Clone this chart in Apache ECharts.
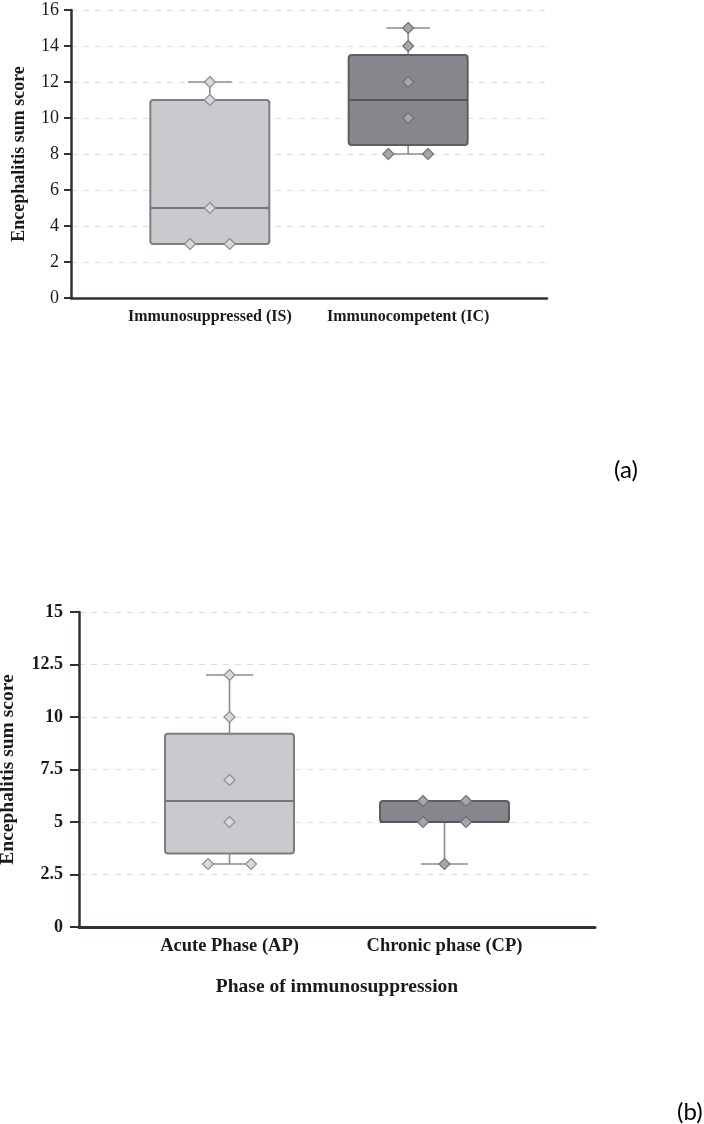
<!DOCTYPE html>
<html>
<head>
<meta charset="utf-8">
<script src="https://cdn.jsdelivr.net/npm/echarts@6/dist/echarts.min.js"></script>
<style>
html, body { margin: 0; padding: 0; background: #fff; }
#main { width: 704px; height: 1124px; }
</style>
</head>
<body>
<div id="main"></div>
<script>
// panel (a): immune status
const catsA = ['Immunosuppressed (IS)', 'Immunocompetent (IC)'];
// [x, min, Q1, median, Q3, max]
const boxesA = [
    [0, 3, 3, 5, 11, 12],
    [1, 8, 8.5, 11, 13.5, 15]
];
const pointsIS = [[0, 12], [0, 11], [0, 5], [-0.1, 3], [0.1, 3]];
const pointsIC = [[1, 15], [1, 14], [1, 12], [1, 10], [0.9, 8], [1.1, 8]];
const yTicksA = [0, 16, 2]; // min, max, step

// panel (b): phase of immunosuppression
const catsB = ['Acute Phase (AP)', 'Chronic phase (CP)'];
const boxesB = [
    [0, 3, 3.5, 6, 9.2, 12],
    [1, 3, 5, 5, 6, 6]
];
const pointsAP = [[0, 12], [0, 10], [0, 7], [0, 5], [-0.1, 3], [0.1, 3]];
const pointsCP = [[0.9, 6], [1.1, 6], [0.9, 5], [1.1, 5], [1, 3]];
const yTicksB = [0, 15, 2.5];

const boxStyle = [
    {fill: '#c9cacd', stroke: '#7c7e83', median: '#74767b'},
    {fill: '#85878c', stroke: '#5c5e63', median: '#55575c'}
];
const whiskerColor = '#8b8d91';
const serif = 'Liberation Serif';
const axisColor = '#2e323b';

function renderBox(params, api) {
    const x = api.value(0);
    const mn = api.value(1), q1 = api.value(2), md = api.value(3), q3 = api.value(4), mx = api.value(5);
    const half = api.size([0.3, 0])[0];
    const cap = api.size([0.11, 0])[0];
    const pMin = api.coord([x, mn]);
    const pQ1 = api.coord([x, q1]);
    const pMd = api.coord([x, md]);
    const pQ3 = api.coord([x, q3]);
    const pMax = api.coord([x, mx]);
    const st = boxStyle[params.dataIndex];
    const ls = {stroke: whiskerColor, lineWidth: 1.6};
    const children = [];
    if (mx > q3) {
        children.push({type: 'line', shape: {x1: pMax[0], y1: pMax[1], x2: pQ3[0], y2: pQ3[1]}, style: ls});
        children.push({type: 'line', shape: {x1: pMax[0] - cap, y1: pMax[1], x2: pMax[0] + cap, y2: pMax[1]}, style: ls});
    }
    if (mn < q1) {
        children.push({type: 'line', shape: {x1: pMin[0], y1: pMin[1], x2: pQ1[0], y2: pQ1[1]}, style: ls});
        children.push({type: 'line', shape: {x1: pMin[0] - cap, y1: pMin[1], x2: pMin[0] + cap, y2: pMin[1]}, style: ls});
    }
    children.push({
        type: 'rect',
        shape: {x: pQ3[0] - half, y: pQ3[1], width: half * 2, height: pQ1[1] - pQ3[1], r: 3},
        style: {fill: st.fill, stroke: st.stroke, lineWidth: 2}
    });
    children.push({
        type: 'line',
        shape: {x1: pMd[0] - half, y1: pMd[1], x2: pMd[0] + half, y2: pMd[1]},
        style: {stroke: st.median, lineWidth: 2}
    });
    return {type: 'group', children: children};
}

function catFormatter(cats) {
    return function (v) {
        const i = Math.round(v);
        if (Math.abs(v - i) < 1e-6 && i >= 0 && i < cats.length) {
            return cats[i];
        }
        return '';
    };
}

function xAxisOpt(gridIndex, cats, fontSize, margin, lineWidth) {
    return {
        gridIndex: gridIndex,
        type: 'value',
        min: -0.7,
        max: 1.7,
        interval: 0.1,
        axisLine: {show: true, onZero: false, lineStyle: {color: axisColor, width: lineWidth}},
        axisTick: {show: false},
        splitLine: {show: false},
        axisLabel: {
            interval: 0,
            margin: margin,
            formatter: catFormatter(cats),
            fontFamily: serif,
            fontWeight: 'bold',
            fontSize: fontSize,
            color: '#1a1a1a'
        }
    };
}

function yAxisOpt(gridIndex, ticks, opt) {
    return {
        gridIndex: gridIndex,
        type: 'value',
        min: ticks[0],
        max: ticks[1],
        interval: ticks[2],
        name: 'Encephalitis sum score',
        nameLocation: 'middle',
        nameGap: opt.nameGap,
        nameTextStyle: {fontFamily: serif, fontWeight: 'bold', fontSize: opt.nameSize, color: '#1a1a1a'},
        axisLine: {show: true, onZero: false, lineStyle: {color: axisColor, width: 2.5}},
        axisTick: {show: true, length: opt.tickLen, lineStyle: {color: axisColor, width: 2}},
        axisLabel: {
            margin: opt.labelMargin,
            fontFamily: serif,
            fontWeight: opt.labelWeight,
            fontSize: opt.labelSize,
            color: '#1a1a1a'
        },
        splitLine: {show: true, lineStyle: {color: '#dedede', width: 1, type: [6, 6]}}
    };
}

function dots(xi, yi, data, fill, border) {
    return {
        type: 'scatter',
        xAxisIndex: xi,
        yAxisIndex: yi,
        data: data,
        symbol: 'diamond',
        symbolSize: 11,
        z: 5,
        itemStyle: {color: fill, borderColor: border, borderWidth: 1.2, opacity: 1}
    };
}

const chart = echarts.init(document.getElementById('main'));
chart.setOption({
    animation: false,
    backgroundColor: '#fff',
    grid: [
        {left: 71, top: 10, width: 476, height: 288, outerBoundsMode: 'none'},
        {left: 79, top: 612, width: 516, height: 315, outerBoundsMode: 'none'}
    ],
    xAxis: [
        xAxisOpt(0, catsA, 16, 11, 2.5),
        Object.assign(xAxisOpt(1, catsB, 18.5, 10, 3), {
            name: 'Phase of immunosuppression',
            nameLocation: 'middle',
            nameGap: 50,
            nameTextStyle: {fontFamily: serif, fontWeight: 'bold', fontSize: 19.5, color: '#1a1a1a'}
        })
    ],
    yAxis: [
        yAxisOpt(0, yTicksA, {nameGap: 43, nameSize: 18, tickLen: 7, labelMargin: 12, labelWeight: 'normal', labelSize: 18}),
        yAxisOpt(1, yTicksB, {nameGap: 61, nameSize: 19.5, tickLen: 9, labelMargin: 16, labelWeight: 'bold', labelSize: 18})
    ],
    series: [
        {type: 'custom', xAxisIndex: 0, yAxisIndex: 0, data: boxesA, renderItem: renderBox, z: 2, encode: {x: 0, y: [1, 2, 3, 4, 5]}},
        {type: 'custom', xAxisIndex: 1, yAxisIndex: 1, data: boxesB, renderItem: renderBox, z: 2, encode: {x: 0, y: [1, 2, 3, 4, 5]}},
        dots(0, 0, pointsIS, '#d8d9db', '#8b8d91'),
        dots(0, 0, pointsIC, '#a6a7aa', '#6f7175'),
        dots(1, 1, pointsAP, '#d8d9db', '#8b8d91'),
        dots(1, 1, pointsCP, '#a6a7aa', '#6f7175')
    ],
    graphic: [
        {type: 'text', left: 614, top: 458, style: {text: '(a)', font: '24px Lato, "Open Sans", sans-serif', fill: '#000'}},
        {type: 'text', left: 677, top: 1100, style: {text: '(b)', font: '24px Lato, "Open Sans", sans-serif', fill: '#000'}}
    ]
});
</script>
</body>
</html>
